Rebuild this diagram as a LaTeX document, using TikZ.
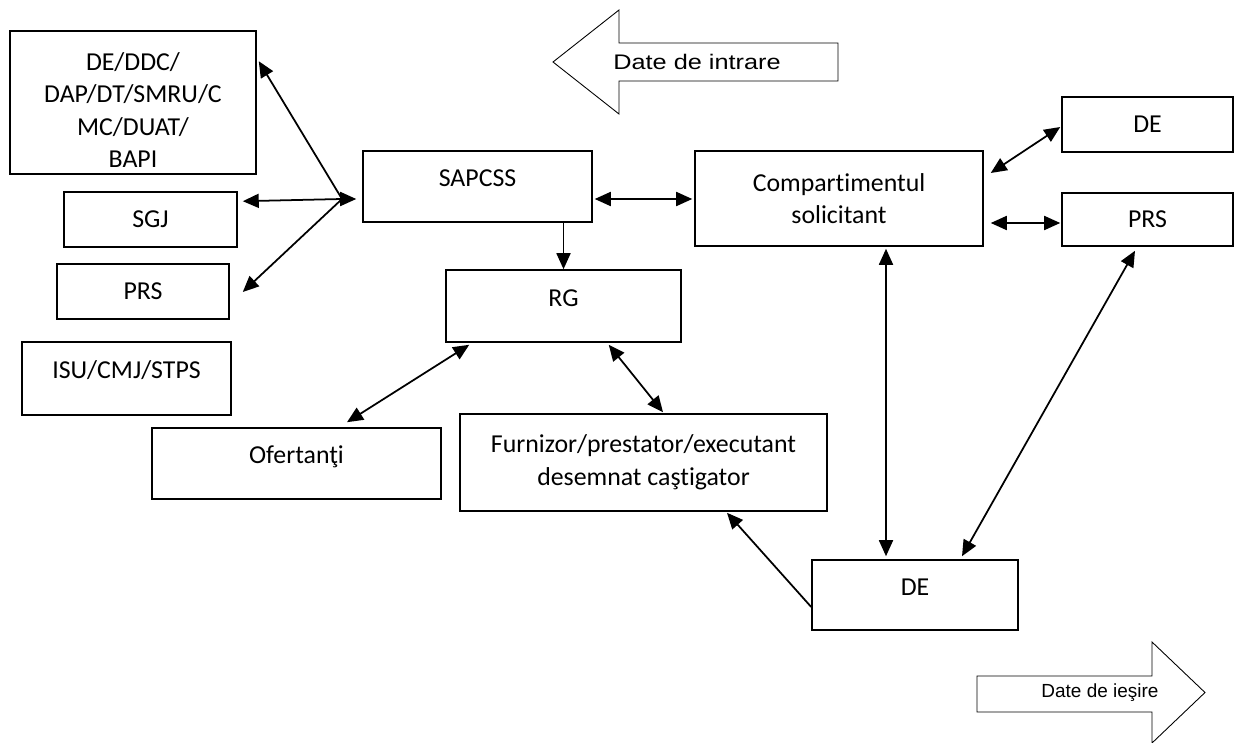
\documentclass[tikz,border=0pt]{standalone}
\usepackage{fontspec}
\usepackage{graphicx}
\setmainfont{Carlito}[Ligatures=NoCommon]
\newfontfamily\arialfont{Liberation Sans}
\usetikzlibrary{arrows.meta}

\begin{document}
\begin{tikzpicture}
  [x=0.02cm,y=-0.02cm,>={Triangle[length=3.2mm,width=2.8mm]},
   every node/.style={font=\fontsize{14.7}{18.5}\selectfont},
   box/.style={draw,line width=0.9pt,inner sep=0pt,align=center},
   raised/.style={text height=10pt,text depth=10pt},
   link/.style={line width=1pt}]
  \useasboundingbox (0,0) rectangle (1234,743);

  % input / output block arrows
  \draw[line width=0.5pt] (553,62) -- (619,10) -- (619,43) -- (838,43) -- (838,81)
    -- (619,81) -- (619,114) -- cycle;
  \node[font=\arialfont\fontsize{12}{14}\selectfont] (intrare) at (697,62) {\scalebox{1.2}[1]{Date de intrare}};
  \draw[line width=0.5pt] (977,676) -- (1152,676) -- (1152,642) -- (1205,692.5)
    -- (1152,743) -- (1152,712) -- (977,712) -- cycle;
  \node[font=\arialfont\fontsize{10.8}{13}\selectfont] (iesire) at (1100,693) {Date de ieşire};

  \node[box,minimum width=4.92cm,minimum height=2.86cm] (deddc) at (133,102.5) {\rule{0pt}{19pt}DE/DDC/\\DAP/DT/SMRU/C\\MC/DUAT/\\BAPI};
  \node[box,minimum width=3.46cm,minimum height=1.1cm] (sgj) at (150.5,219.5) {SGJ};
  \node[box,minimum width=3.44cm,minimum height=1.1cm] (prsL) at (143,291.5) {PRS};
  \node[box,raised,minimum width=4.18cm,minimum height=1.46cm] (isu) at (126.5,378.5) {ISU/CMJ/STPS};
  \node[box,raised,minimum width=4.58cm,minimum height=1.42cm] (sapcss) at (477.5,186.5) {SAPCSS};
  \node[box,minimum width=5.76cm,minimum height=1.9cm] (comp) at (839,198.5) {Compartimentul\\solicitant};
  \node[box,minimum width=3.42cm,minimum height=1.1cm] (deR) at (1147.5,124.5) {DE};
  \node[box,minimum width=3.42cm,minimum height=1.06cm] (prsR) at (1147.5,219.5) {PRS};
  \node[box,raised,minimum width=4.7cm,minimum height=1.44cm] (rg) at (563.5,306) {RG};
  \node[box,raised,minimum width=5.78cm,minimum height=1.42cm] (ofert) at (296.5,463.5) {Ofertanţi};
  \node[box,minimum width=7.34cm,minimum height=1.94cm] (furn) at (643.5,462.5) {Furnizor/prestator/executant\\desemnat caştigator};
  \node[box,raised,minimum width=4.12cm,minimum height=1.4cm] (deB) at (915,595) {DE};

  \coordinate (hub) at (342,199);

  \draw[link,->] (hub) -- ([shift={(-6,12.5)}]sapcss.west);
  \draw[link,->] (hub) -- ([shift={(2,31)}]deddc.north east);
  \draw[link,->] (hub) -- ([shift={(5,10)}]sgj.north east);
  \draw[link,->] (hub) -- ([shift={(13,0.5)}]prsL.east);

  \draw[link,<->] ([shift={(2,12.5)}]sapcss.east) -- ([shift={(-2,0.5)}]comp.west);
  \draw[link,->] (sapcss.south -| rg.north) -- (rg.north);
  \draw[link,<->] ([shift={(24,2)}]rg.south west) -- ([shift={(50.5,-5)}]ofert.north);
  \draw[link,<->] ([shift={(-73,2)}]rg.south east) -- ([shift={(19.5,-1)}]furn.north);
  \draw[link,<->] ([shift={(7,-25.5)}]comp.east) -- ([shift={(-1,2.5)}]deR.west);
  \draw[link,<->] ([shift={(7,24.5)}]comp.east) -- ([shift={(-1,3.5)}]prsR.west);
  \draw[link,<->] ([shift={(47,2)}]comp.south) -- ([shift={(-29,-3)}]deB.north);
  \draw[link,<->] ([shift={(-12.5,4)}]prsR.south) -- ([shift={(47,-3)}]deB.north);
  \draw[link,->] ([shift={(0,12)}]deB.west) -- ([shift={(83.5,1)}]furn.south);

\end{tikzpicture}
\end{document}
